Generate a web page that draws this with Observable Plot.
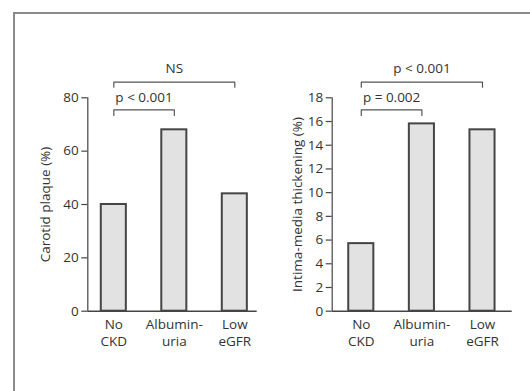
<!DOCTYPE html>
<html>
<head>
<meta charset="utf-8">
<script src="https://cdn.jsdelivr.net/npm/d3@7"></script>
<script src="https://cdn.jsdelivr.net/npm/@observablehq/plot@0.6"></script>
<style>
  html, body { margin: 0; padding: 0; background: #fff; }
  #wrap { position: relative; width: 530px; height: 391px; overflow: hidden; background: #fff; }
  #frame { position: absolute; left: 13px; top: 12px; width: 530px; height: 400px;
           border-left: 2px solid #8a8a8a; border-top: 2px solid #8a8a8a; }
  .panel { position: absolute; top: 0; }
  .panel svg { font-family: "Open Sans", sans-serif; }
</style>
</head>
<body>
<div id="wrap"><div id="frame"></div>
  <div id="left" class="panel" style="left:0px"></div>
  <div id="right" class="panel" style="left:265px"></div>
</div>
<script>
const categories = ["No CKD", "Albuminuria", "Low eGFR"];
const tickLabels = ["No\nCKD", "Albumin-\nuria", "Low\neGFR"];
const plaqueValues = [40, 68, 44];
const imtValues = [5.7, 15.8, 15.3];
const plaqueTicks = [0, 20, 40, 60, 80];
const imtTicks = [0, 2, 4, 6, 8, 10, 12, 14, 16, 18];
const plaqueLabel = "Carotid plaque (%)";
const imtLabel = "Intima-media thickening (%)";
const plaqueComparisons = [
  {from: "No CKD", to: "Albuminuria", label: "p < 0.001", level: "inner"},
  {from: "No CKD", to: "Low eGFR", label: "NS", level: "outer"}
];
const imtComparisons = [
  {from: "No CKD", to: "Albuminuria", label: "p = 0.002", level: "inner"},
  {from: "No CKD", to: "Low eGFR", label: "p < 0.001", level: "outer"}
];

const INK = "#454545", TEXT = "#333";
const FS = 13.5;
const H = 391, MT = 97.3, MB = H - 310.7, PLOT_H = H - MT - MB;

function panel({values, ticks, label, comparisons, xDomain, marginLeft, marginRight, labelDx}) {
  const yMax = ticks[ticks.length - 1];
  const k = yMax / PLOT_H; // units per pixel
  const idx = c => categories.indexOf(c);
  const data = categories.map((c, i) => ({i, category: c, value: values[i]}));
  const half = 0.207;
  const geom = {
    inner: {line: -12, end: -17.7, text: 0.3},
    outer: {line: 15.6, end: 10.6, text: 29}
  };
  const bracketPts = [];
  comparisons.forEach(c => {
    const g = geom[c.level];
    const yl = yMax + g.line * k, ye = yMax + g.end * k;
    const id = c.label + c.level;
    bracketPts.push({id, x: idx(c.from), y: ye});
    bracketPts.push({id, x: idx(c.from), y: yl});
    bracketPts.push({id, x: idx(c.to), y: yl});
    bracketPts.push({id, x: idx(c.to), y: ye});
  });
  const bracketText = comparisons.map(c => ({
    x: (idx(c.from) + idx(c.to)) / 2,
    y: yMax + geom[c.level].text * k,
    label: c.label
  }));
  return Plot.plot({
    width: 265, height: H,
    marginLeft, marginRight, marginTop: MT, marginBottom: MB,
    style: {fontFamily: "'Open Sans', sans-serif", fontSize: FS + "px", color: TEXT, background: "transparent", overflow: "visible"},
    x: {type: "linear", domain: xDomain, axis: null},
    y: {domain: [0, yMax], axis: null},
    marks: [
      Plot.rectY(data, {x1: d => d.i - half, x2: d => d.i + half, y1: 0, y2: "value",
        fill: "#e2e2e2", stroke: INK, strokeWidth: 2}),
      Plot.ruleY([0], {stroke: INK, strokeWidth: 1.6}),
      Plot.ruleX([xDomain[0]], {y1: 0, y2: yMax, stroke: INK, strokeWidth: 1.2}),
      Plot.axisY({ticks, tickSize: 6, tickPadding: 3, stroke: INK, strokeWidth: 1.2, fill: TEXT, fontSize: FS, label: null}),
      Plot.axisX({ticks: [0, 1, 2], tickFormat: i => tickLabels[i], tickSize: 0, tickPadding: 5,
        fill: TEXT, fontSize: FS, lineHeight: 1.3, label: null}),
      Plot.text([label], {frameAnchor: "left", rotate: -90, dx: -labelDx, text: d => d,
        fill: TEXT, fontSize: FS, textAnchor: "middle", lineAnchor: "middle"}),
      Plot.line(bracketPts, {x: "x", y: "y", z: "id", stroke: "#555", strokeWidth: 1.2}),
      Plot.text(bracketText, {x: "x", y: "y", text: "label", fill: TEXT, fontSize: FS, lineAnchor: "middle"})
    ]
  });
}

document.getElementById("left").append(panel({
  values: plaqueValues, ticks: plaqueTicks, label: plaqueLabel, comparisons: plaqueComparisons,
  xDomain: [-0.43, 2.37], marginLeft: 87.3, marginRight: 265 - 256.7, labelDx: 41.7
}));
document.getElementById("right").append(panel({
  values: imtValues, ticks: imtTicks, label: imtLabel, comparisons: imtComparisons,
  xDomain: [-0.48, 2.49], marginLeft: 331.7 - 265, marginRight: 530 - 511.7, labelDx: 35
}));
</script>
</body>
</html>
